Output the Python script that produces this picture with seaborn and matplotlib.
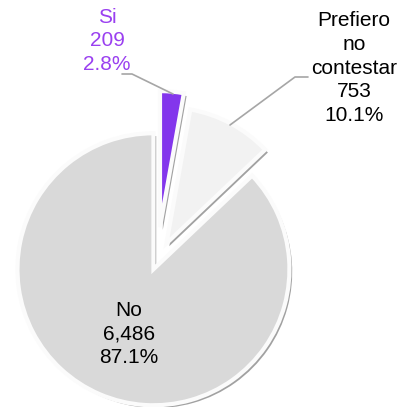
import matplotlib
matplotlib.use('Agg')
import matplotlib.pyplot as plt
import matplotlib.patheffects as pe
import seaborn as sns

categories = ['Si', 'Prefiero\nno\ncontestar', 'No']
counts = [209, 753, 6486]
slice_colors = ['#8336ec', '#f2f2f2', '#d9d9d9']
label_colors = ['#9a40f0', '#000000', '#000000']

sns.set_theme(style='white')
plt.rcParams['font.family'] = ['Liberation Sans', 'DejaVu Sans']

fig = plt.figure(figsize=(4.04, 4.07), dpi=100)
ax = fig.add_axes([0, 0, 1, 1])

total = sum(counts)
R = 136
wedges, _ = ax.pie(counts, colors=slice_colors, startangle=90, counterclock=False,
                   explode=[34, 20, 9], radius=R, center=(157, 146),
                   wedgeprops=dict(edgecolor='#fbfbfb', linewidth=3, joinstyle='miter'))
for w in wedges:
    w.set_path_effects([pe.SimplePatchShadow(offset=(2, -2), shadow_rgbFace='#7a7a7a', alpha=0.7),
                        pe.Normal()])

ax.set_xlim(0, 404)
ax.set_ylim(0, 407)
ax.axis('off')

labels = [f'{c}\n{v:,}\n{v / total:.1%}' for c, v in zip(categories, counts)]
label_pos = [(107, 366), (354, 339), (129, 73)]
for txt, (x, y), col in zip(labels, label_pos, label_colors):
    ax.text(x, y, txt, ha='center', va='center', fontsize=15, color=col, linespacing=1.32)

# leader lines
ax.plot([122, 132, 173], [333, 333, 313], color='#a6a6a6', lw=1.2)
ax.plot([308, 295, 230], [330, 330, 282], color='#a6a6a6', lw=1.2)

fig.savefig('out.png', dpi=100)
